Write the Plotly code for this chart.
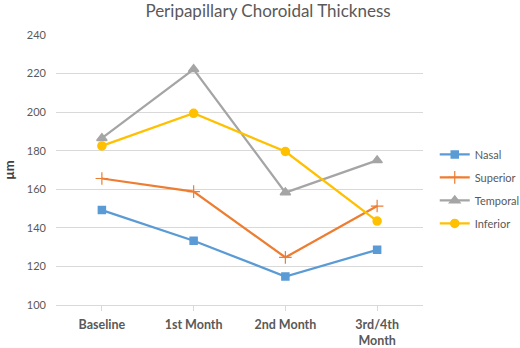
import plotly.graph_objects as go

categories = ["Baseline", "1st Month", "2nd Month", "3rd/4th<br>Month"]
nasal = [149.2, 133.3, 114.8, 128.6]
superior = [165.6, 158.8, 124.7, 151.3]
temporal = [186.5, 222.2, 158.3, 175.0]
inferior = [182.5, 199.4, 179.6, 143.5]
y_ticks = [100, 120, 140, 160, 180, 200, 220, 240]

series = [
    ("Nasal", nasal, "#5B9BD5", "square", 7, 1.5),
    ("Superior", superior, "#ED7D31", "cross-thin-open", 9, 1.2),
    ("Temporal", temporal, "#A5A5A5", "triangle-up", 9, 1.5),
    ("Inferior", inferior, "#FFC000", "circle", 8, 1.5),
]

FONT = "Lato, Open Sans, Liberation Sans, sans-serif"

fig = go.Figure()
for name, vals, color, sym, size, lw in series:
    fig.add_trace(go.Scatter(
        x=categories, y=vals, name=name, mode="lines+markers",
        legendgroup=name,
        line=dict(color=color, width=2.25),
        marker=dict(symbol=sym, size=size, color=color,
                    line=dict(color=color, width=lw)),
    ))

fig.update_layout(
    width=520, height=348,
    margin=dict(l=56, r=97, t=35, b=43, autoexpand=False),
    paper_bgcolor="white", plot_bgcolor="white",
    font=dict(family=FONT, color="#595959", size=11),
    title=dict(text="Peripapillary Choroidal Thickness", x=268 / 520, xanchor="center",
               xref="container", y=1 - 11.0 / 348, yanchor="middle", yref="container",
               font=dict(size=17, color="#595959", family=FONT)),
    legend=dict(x=1.032, y=0.43, xanchor="left", yanchor="middle",
                font=dict(size=11, color="#595959", family=FONT),
                tracegroupgap=4, itemwidth=30, traceorder="grouped",
                bgcolor="rgba(0,0,0,0)"),
    showlegend=True,
)
fig.update_xaxes(
    type="category", range=[-0.5, 3.5], automargin=False,
    showline=True, linecolor="#D9D9D9", linewidth=1,
    ticks="outside", ticklen=5, tickcolor="#D9D9D9",
    showgrid=False, zeroline=False, ticklabelstandoff=3,
    tickfont=dict(size=12.5, color="#595959", family=FONT, weight="bold"),
)
fig.update_yaxes(
    range=[100, 240], tickvals=y_ticks, automargin=False,
    showgrid=True, gridcolor="#D9D9D9", gridwidth=1,
    zeroline=False, showline=False, ticks="", ticklabelstandoff=9,
    tickfont=dict(size=11, color="#595959", family=FONT),
    title=dict(text="µm", standoff=9, font=dict(size=13, color="#404040", family=FONT, weight="bold")),
)
fig.write_html("out.html", config={"displayModeBar": False},
               post_script="document.body.style.margin='0';document.body.style.overflow='hidden';")
